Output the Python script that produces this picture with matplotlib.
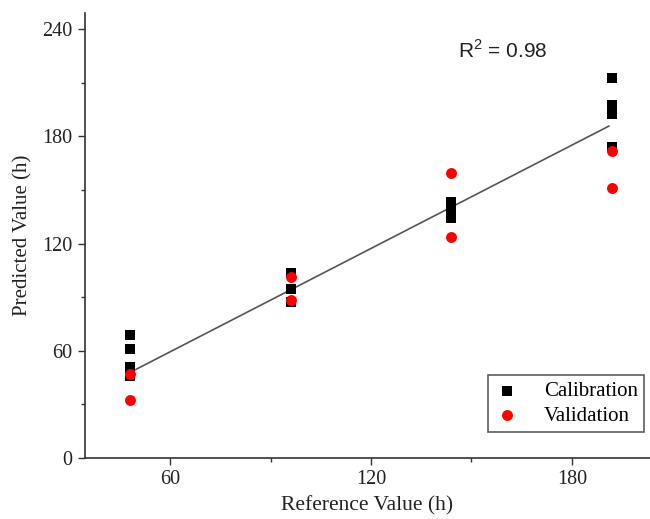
import numpy as np
import matplotlib
matplotlib.use("Agg")
import matplotlib.pyplot as plt
from matplotlib.ticker import MultipleLocator

# values (hours)
cal_x = [48, 48, 48, 48, 96, 96, 96, 144, 144, 144, 144, 192, 192, 192, 192, 192]
cal_y = [68.8, 61, 51, 46, 103.5, 94.5, 87.3, 143.5, 140, 137, 134.5, 212.6, 197.8, 195, 192.7, 174]
val_x = [48, 48, 96, 96, 144, 144, 192, 192]
val_y = [47, 32.4, 101.3, 88.4, 159.4, 123.6, 171.7, 151]
fit_x = [49, 191]
fit_y = [48.8, 185.7]
r2_text = r"R$^{\mathrm{2}}$ = 0.98"

serif = "Liberation Serif"
sans = "Liberation Sans"
plt.rcParams["mathtext.fontset"] = "custom"
plt.rcParams["mathtext.rm"] = sans

fig = plt.figure(figsize=(6.5, 5.19), dpi=100)
ax = fig.add_axes([85 / 650, 61 / 519, 565 / 650, 445 / 519])

ax.plot(fit_x, fit_y, color="#555555", lw=1.2, zorder=1)
ax.scatter(cal_x, cal_y, marker="s", s=52, color="black", lw=0, zorder=2, label="Calibration")
ax.scatter(val_x, val_y, marker="o", s=62, color="#ff0000", lw=0, zorder=3, label="Validation")

ax.set_xlim(34.6, 203.3)
ax.set_ylim(0, 249)
ax.xaxis.set_major_locator(MultipleLocator(60))
ax.xaxis.set_minor_locator(MultipleLocator(30))
ax.yaxis.set_major_locator(MultipleLocator(60))
ax.yaxis.set_minor_locator(MultipleLocator(30))

for side in ["top", "right"]:
    ax.spines[side].set_visible(False)
for side in ["left", "bottom"]:
    ax.spines[side].set_color("#333333")
    ax.spines[side].set_linewidth(1.2)

ax.tick_params(which="both", direction="out", color="#333333", width=1.0)
ax.tick_params(which="major", length=5, labelsize=14.5, pad=4)
ax.tick_params(which="minor", length=3)
for lab in ax.get_xticklabels() + ax.get_yticklabels():
    lab.set_fontfamily(serif)
    lab.set_color("#222222")

ax.set_xlabel("Reference Value (h)", fontfamily=serif, fontsize=15.5, color="#222222", labelpad=5)
ax.set_ylabel("Predicted Value (h)", fontfamily=serif, fontsize=15, color="#222222", labelpad=7)

ax.text(146, 228, r2_text, fontfamily=sans, fontsize=15, color="#222222", va="center", ha="left")

leg = ax.legend(loc="lower right", bbox_to_anchor=(0.99, 0.058), borderaxespad=0,
                frameon=True, fancybox=False, prop={"family": serif, "size": 15},
                handletextpad=1.2, borderpad=0.3, labelspacing=0.25, handlelength=1.2)
leg.get_frame().set_edgecolor("#333333")
leg.get_frame().set_linewidth(1.2)

fig.savefig("out.png", dpi=100)
